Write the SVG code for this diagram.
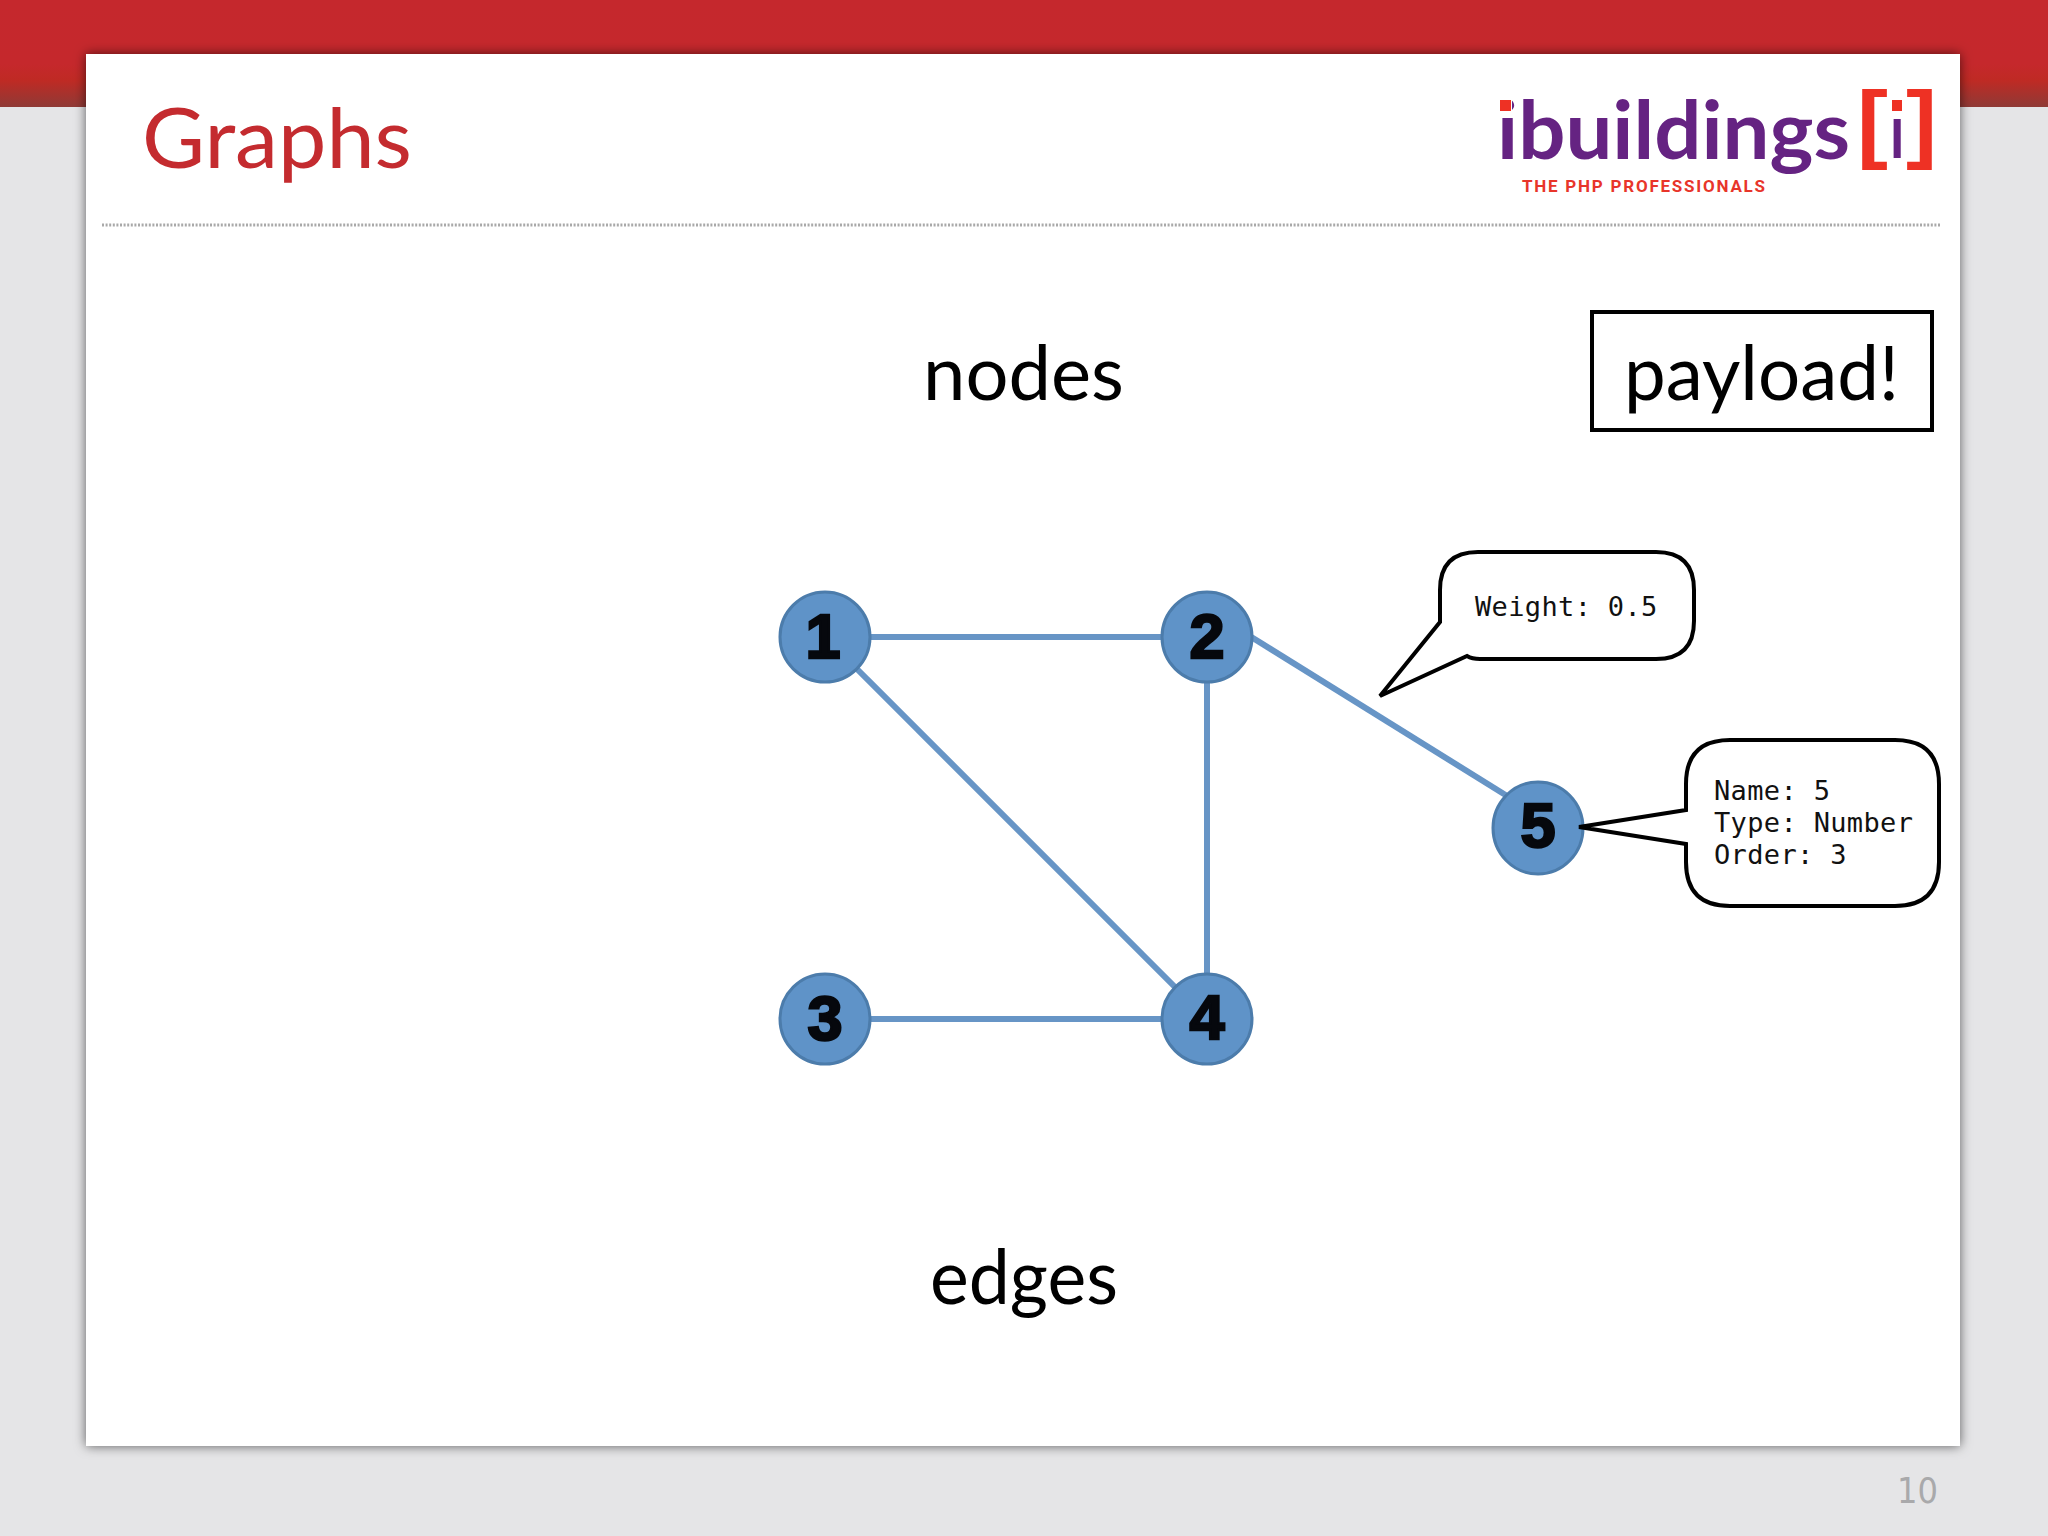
<svg xmlns="http://www.w3.org/2000/svg" width="2048" height="1536" viewBox="0 0 2048 1536">
<style>
.edge{stroke:#6795c6;stroke-width:6;fill:none}
.node{fill:#5f93c8;stroke:#4c7cab;stroke-width:3}
.num{font-family:"Liberation Sans",Arial,sans-serif;font-weight:700;font-size:63px;fill:#06080d;stroke:#06080d;stroke-width:2.5;text-anchor:middle}
.big{font-family:Lato,"Liberation Sans",sans-serif;font-size:76px;fill:#000}
.mono{font-family:"DejaVu Sans Mono",monospace;font-size:27px;fill:#111;letter-spacing:.35px}
.call{fill:#fff;stroke:#000;stroke-width:4;stroke-linejoin:miter}
.brk{font-family:"Liberation Sans",sans-serif;font-weight:700;font-size:88px;fill:#ee3124}
</style>
<defs>
<linearGradient id="band" x1="0" y1="0" x2="0" y2="1">
<stop offset="0" stop-color="#c5282d"/><stop offset=".6" stop-color="#c5282c"/><stop offset=".75" stop-color="#bf2a24"/><stop offset="1" stop-color="#8f3a36"/>
</linearGradient>
<filter id="sh" x="-3%" y="-3%" width="106%" height="106%"><feDropShadow dx="0" dy="0" stdDeviation="6" flood-color="#000" flood-opacity=".6"/></filter>
</defs>
<rect width="2048" height="1536" fill="#e5e5e7"/>
<rect width="2048" height="107" fill="url(#band)"/>
<rect x="86" y="54" width="1874" height="1392" fill="#fff" filter="url(#sh)"/>
<g id="header">
<text x="142" y="168" font-family="Lato,sans-serif" font-size="84" fill="#c42b2f" textLength="270" lengthAdjust="spacingAndGlyphs">Graphs</text>
<line x1="102" y1="225" x2="1941" y2="225" stroke="#a9a9a9" stroke-width="3" stroke-dasharray="2 1.6"/>
</g>
<g id="logo">
<text x="1497" y="159" font-family="Lato,sans-serif" font-weight="700" font-size="80" fill="#652382" textLength="353" lengthAdjust="spacingAndGlyphs">ibuildings</text>
<rect x="1499" y="98" width="13" height="14" fill="#fff"/>
<rect x="1500" y="100" width="11" height="11" fill="#ee3124"/>
<text x="1522" y="192" font-family="Roboto,sans-serif" font-weight="700" font-size="17" fill="#e8352a" textLength="243">THE PHP PROFESSIONALS</text>
<text class="brk" x="1857" y="152" textLength="31" lengthAdjust="spacingAndGlyphs">[</text>
<text transform="translate(1890 158) scale(.7 1)" font-family="Liberation Sans,sans-serif" font-weight="700" font-size="74" fill="#652382">i</text>
<rect x="1891" y="98" width="12" height="17" fill="#fff"/>
<rect x="1892" y="100" width="10" height="11" fill="#ee3124"/>
<text class="brk" x="1906" y="152" textLength="31" lengthAdjust="spacingAndGlyphs">]</text>
</g>
<g id="labels">
<text class="big" x="923" y="400" textLength="201" lengthAdjust="spacingAndGlyphs">nodes</text>
<text class="big" x="930" y="1304" textLength="188" lengthAdjust="spacingAndGlyphs">edges</text>
</g>
<g id="payload">
<rect x="1592" y="312" width="340" height="118" fill="#fff" stroke="#000" stroke-width="4"/>
<text class="big" x="1624" y="400" textLength="275" lengthAdjust="spacingAndGlyphs">payload!</text>
</g>
<g id="connectors">
<line class="edge" x1="825" y1="637" x2="1207" y2="637"/>
<line class="edge" x1="825" y1="637" x2="1207" y2="1019"/>
<line class="edge" x1="1207" y1="637" x2="1207" y2="1019"/>
<line class="edge" x1="825" y1="1019" x2="1207" y2="1019"/>
<line class="edge" x1="1240" y1="630" x2="1520" y2="804"/>
</g>
<g id="node-1"><circle class="node" cx="825" cy="637" r="45"/><text class="num" x="823" y="658">1</text></g>
<g id="node-2"><circle class="node" cx="1207" cy="637" r="45"/><text class="num" x="1207" y="658">2</text></g>
<g id="node-3"><circle class="node" cx="825" cy="1019" r="45"/><text class="num" x="825" y="1040">3</text></g>
<g id="node-4"><circle class="node" cx="1207" cy="1019" r="45"/><text class="num" x="1207" y="1039">4</text></g>
<g id="node-5"><ellipse class="node" cx="1538" cy="828" rx="45" ry="46"/><text class="num" x="1538" y="847">5</text></g>
<g id="callout-weight">
<path class="call" d="M1380 696L1440 622V590Q1440 552 1478 552H1656Q1694 552 1694 590V621Q1694 659 1656 659H1480Q1472 659 1467 656Z"/>
<text class="mono" x="1475" y="616">Weight: 0.5</text>
</g>
<g id="callout-props">
<path class="call" d="M1579 827L1686 810V784Q1686 740 1730 740H1895Q1939 740 1939 784V862Q1939 906 1895 906H1730Q1686 906 1686 862V844Z"/>
<text class="mono" x="1714" y="800">Name: 5</text>
<text class="mono" x="1714" y="832">Type: Number</text>
<text class="mono" x="1714" y="864">Order: 3</text>
</g>
<text id="page" x="1897" y="1503" font-family="DejaVu Sans,sans-serif" font-size="36" fill="#a9a9ab" textLength="41" lengthAdjust="spacingAndGlyphs">10</text>
</svg>
